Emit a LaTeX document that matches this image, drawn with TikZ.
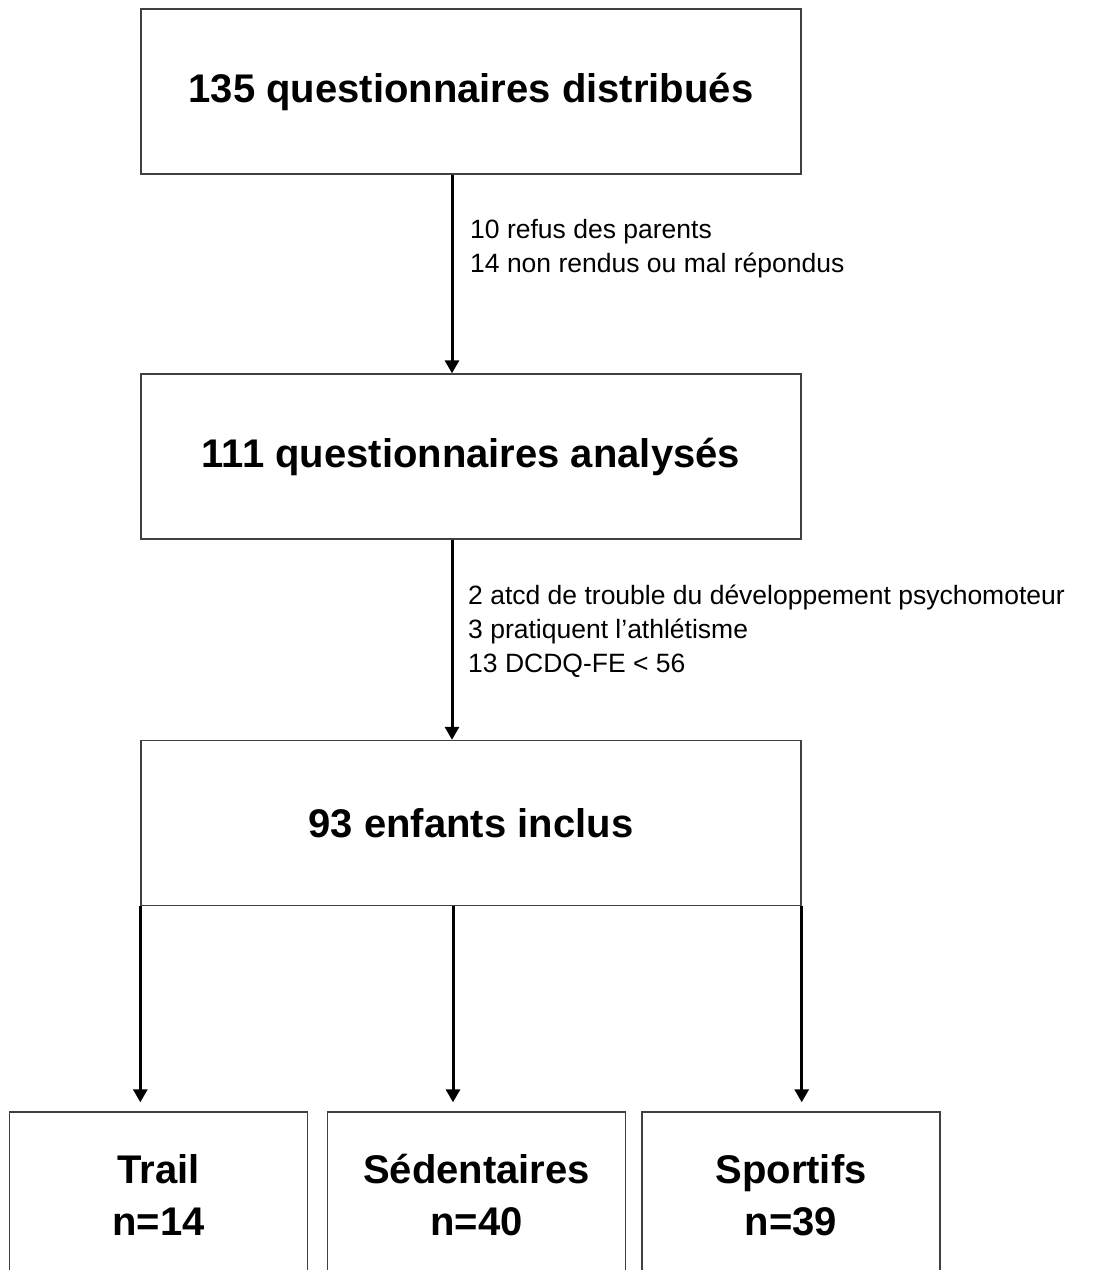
\documentclass[tikz,border=0pt]{standalone}
\usepackage{fontspec}
\setmainfont{Liberation Sans}
\usetikzlibrary{
  arrows.meta,
  positioning,
}

\begin{document}
\begin{tikzpicture}[x=1pt,y=-1pt]%
\tikzstyle{bigbox}=[rectangle,draw=black!75,line width=1.4pt,minimum width=660pt,minimum height=165pt,font=\bfseries\fontsize{40}{48}\selectfont,inner sep=0pt]
\tikzstyle{groupbox}=[rectangle,draw=black!75,line width=1.4pt,minimum width=298pt,minimum height=166pt,align=center,font=\bfseries\fontsize{40}{52}\selectfont,inner sep=0pt]
\tikzstyle{note}=[anchor=west,align=left,font=\fontsize{26.5}{34}\selectfont,inner sep=0pt]
\tikzstyle{flow}=[line width=3pt,-{Triangle[length=13pt,width=14pt]}]
\clip (0,0) rectangle (1093,1270);
% main stages
\node[bigbox] (dist) at (471,91.5) {135 questionnaires distribués};
\node[bigbox] (anal) at (471,456.5) {111 questionnaires analysés};
\node[bigbox] (incl) at (471,823) {93 enfants inclus};
% groups
\node[groupbox] (trail) at (158.5,1195) {Trail\\n=14};
\node[groupbox] (sed) at (476.5,1195) {Sédentaires\\n=40};
\node[groupbox] (sport) at (791,1195) {Sportifs\\n=39};
% exclusions
\node[note] (excl1) at (470,248.5) {10 refus des parents\\14 non rendus ou mal répondus};
\node[note] (excl2) at (468,631) {2 atcd de trouble du développement psychomoteur\\3 pratiquent l’athlétisme\\13 DCDQ-FE < 56};
% arrows
\draw[flow] ([xshift=-19pt]dist.south) -- ([xshift=-19pt]anal.north);
\draw[flow] ([xshift=-19pt]anal.south) -- ([xshift=-19pt]incl.north);
\draw[flow,shorten >=9pt] (incl.south west) -- (incl.south west |- trail.north);
\draw[flow,shorten >=9pt] ([xshift=-18pt]incl.south) -- ([xshift=-18pt]incl.south |- sed.north);
\draw[flow,shorten >=9pt] (incl.south east) -- (incl.south east |- sport.north);
\end{tikzpicture}
\end{document}
